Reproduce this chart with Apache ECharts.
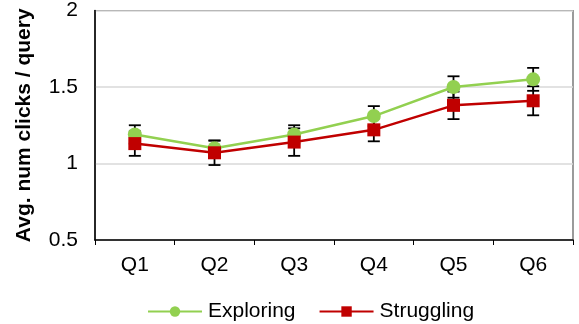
<!DOCTYPE html>
<html>
<head>
<meta charset="utf-8">
<script src="https://cdn.jsdelivr.net/npm/echarts@6/dist/echarts.min.js"></script>
<style>
  html, body { margin: 0; padding: 0; background: #fff; }
  #chart { width: 579px; height: 324px; }
</style>
</head>
<body>
<div id="chart"></div>
<script>
// Quarter categories and per-group averages with their error margins
const categories = ['Q1', 'Q2', 'Q3', 'Q4', 'Q5', 'Q6'];
const exploring = [1.19, 1.10, 1.19, 1.31, 1.50, 1.55];
const exploringErr = [0.06, 0.05, 0.06, 0.065, 0.07, 0.075];
const struggling = [1.13, 1.07, 1.14, 1.22, 1.38, 1.41];
const strugglingErr = [0.08, 0.08, 0.09, 0.075, 0.09, 0.095];
const yTicks = [0.5, 1, 1.5, 2];

const FONT = '"Liberation Sans", Arial, sans-serif';

function errorData(vals, errs) {
  return vals.map((v, i) => [i, v - errs[i], v + errs[i]]);
}

// Vertical whisker with caps at both ends
function renderErrorBar(params, api) {
  const x = api.value(0);
  const lo = api.coord([x, api.value(1)]);
  const hi = api.coord([x, api.value(2)]);
  const half = 6;
  const style = { stroke: '#000', lineWidth: 1.8 };
  return {
    type: 'group',
    children: [
      { type: 'line', shape: { x1: lo[0], y1: lo[1], x2: hi[0], y2: hi[1] }, style },
      { type: 'line', shape: { x1: lo[0] - half, y1: lo[1], x2: lo[0] + half, y2: lo[1] }, style },
      { type: 'line', shape: { x1: hi[0] - half, y1: hi[1], x2: hi[0] + half, y2: hi[1] }, style }
    ]
  };
}

const chart = echarts.init(document.getElementById('chart'), null, { renderer: 'canvas' });
chart.setOption({
  animation: false,
  backgroundColor: '#fff',
  grid: {
    left: 95, right: 6, top: 10, bottom: 84,
    show: true, borderColor: '#595959', borderWidth: 1.2, backgroundColor: 'transparent'
  },
  legend: {
    top: 296,
    left: 142,
    itemWidth: 54,
    itemHeight: 13,
    itemGap: 23,
    textStyle: { fontFamily: FONT, fontSize: 21, color: '#000', padding: [0, 0, 0, 1] },
    data: ['Exploring', 'Struggling']
  },
  xAxis: {
    type: 'category',
    data: categories,
    boundaryGap: true,
    axisLine: { lineStyle: { color: '#000', width: 1.5 } },
    axisTick: { show: true, length: 5, lineStyle: { color: '#000', width: 1 } },
    axisLabel: { fontFamily: FONT, fontSize: 21, color: '#000', margin: 15 }
  },
  yAxis: {
    type: 'value',
    min: yTicks[0],
    max: yTicks[yTicks.length - 1],
    interval: 0.5,
    name: 'Avg. num clicks / query',
    nameLocation: 'middle',
    nameGap: 60,
    nameTextStyle: { fontFamily: FONT, fontSize: 21, fontWeight: 'bold', color: '#000' },
    axisLine: { show: true, lineStyle: { color: '#000', width: 1.5 } },
    axisTick: { show: false },
    axisLabel: { fontFamily: FONT, fontSize: 21, color: '#000', margin: 17 },
    splitLine: { lineStyle: { color: '#d9d9d9', width: 1.5 } }
  },
  series: [
    {
      type: 'custom',
      renderItem: renderErrorBar,
      data: errorData(exploring, exploringErr),
      encode: { x: 0, y: [1, 2] },
      z: 1,
      silent: true
    },
    {
      type: 'custom',
      renderItem: renderErrorBar,
      data: errorData(struggling, strugglingErr),
      encode: { x: 0, y: [1, 2] },
      z: 1,
      silent: true
    },
    {
      name: 'Exploring',
      type: 'line',
      data: exploring,
      symbol: 'circle',
      symbolSize: 14,
      itemStyle: { color: '#92d050' },
      lineStyle: { color: '#92d050', width: 2.5 },
      z: 3
    },
    {
      name: 'Struggling',
      type: 'line',
      data: struggling,
      symbol: 'rect',
      symbolSize: 13,
      itemStyle: { color: '#c00000' },
      lineStyle: { color: '#c00000', width: 2.5 },
      z: 4
    }
  ]
});
</script>
</body>
</html>
